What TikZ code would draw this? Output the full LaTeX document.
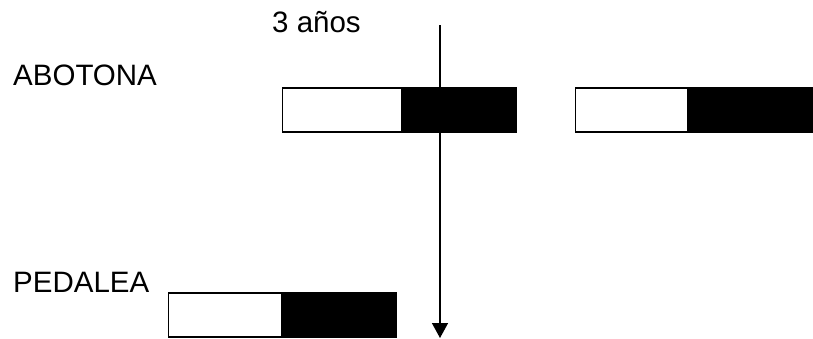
\documentclass[tikz,border=0pt]{standalone}
\usepackage{fontspec}
\setmainfont{Liberation Sans}
\usetikzlibrary{arrows.meta}
\begin{document}
\begin{tikzpicture}[x=1pt,y=-1pt,
  lbl/.style={anchor=base west,inner sep=0pt,font=\fontsize{29.5}{35}\selectfont},
  whitebar/.style={draw=black,line width=1.5pt,fill=white},
  blackbar/.style={draw=black,line width=1pt,fill=black}]
\useasboundingbox (0,0) rectangle (813,338);
\node[lbl] (t3) at (272,32) {3 años};
\node[lbl] (abo) at (13,85) {ABOTONA};
\node[lbl] (ped) at (13,292) {PEDALEA};
% bar 1
\filldraw[blackbar] (402,87.5) rectangle (516,132.5);
\filldraw[whitebar] (282.5,88) rectangle (402,132);
% bar 2
\filldraw[blackbar] (688,87.5) rectangle (814,132.5);
\filldraw[whitebar] (575.5,88) rectangle (688,132);
% bar 3
\filldraw[blackbar] (282,292.5) rectangle (396,337.5);
\filldraw[whitebar] (168.5,293) rectangle (282,337);
% arrow
\coordinate (top) at (440,25);
\coordinate (bot) at (440,338);
\draw[line width=1.5pt,-{Triangle[length=15pt,width=16pt]}] (top) -- (bot);
\end{tikzpicture}
\end{document}
